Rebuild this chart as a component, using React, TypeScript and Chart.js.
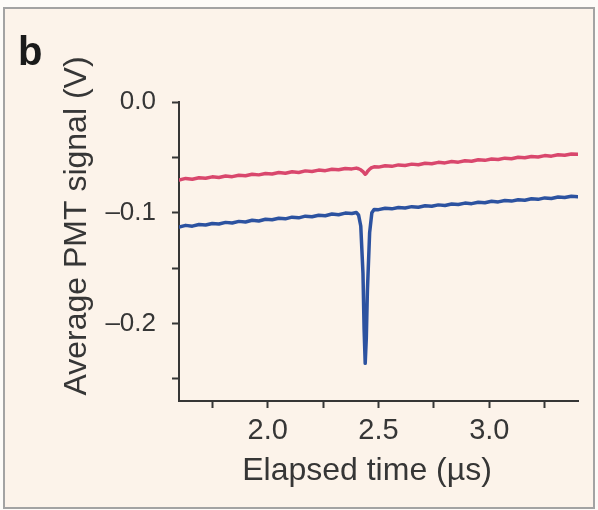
import React, { useEffect, useRef } from "react";
import { Chart, registerables } from "chart.js";

Chart.register(...registerables);

// Elapsed time (µs)
const time = [
  1.6, 1.63, 1.66, 1.69, 1.72, 1.75, 1.78, 1.81, 1.84, 1.87, 1.9, 1.93, 1.96, 1.99,
  2.02, 2.05, 2.08, 2.11, 2.14, 2.17, 2.2, 2.23, 2.26, 2.29, 2.32, 2.35, 2.38,
  2.4, 2.41, 2.42, 2.43, 2.435, 2.44, 2.445, 2.45, 2.46, 2.47, 2.48,
  2.5, 2.53, 2.56, 2.59, 2.62, 2.65, 2.68, 2.71, 2.74, 2.77, 2.8, 2.83, 2.86, 2.89,
  2.92, 2.95, 2.98, 3.01, 3.04, 3.07, 3.1, 3.13, 3.16, 3.19, 3.22, 3.25, 3.28, 3.31,
  3.34, 3.37, 3.4,
];

// Red trace (V)
const redSignal = [
  -0.0705, -0.069, -0.0697, -0.0684, -0.0689, -0.0676, -0.0681, -0.0669, -0.0674, -0.0661,
  -0.0666, -0.0652, -0.0658, -0.0646, -0.065, -0.0637, -0.0643, -0.063, -0.0636, -0.0622,
  -0.0627, -0.0615, -0.062, -0.0607, -0.0612, -0.06, -0.0604,
  -0.0597, -0.0603, -0.0612, -0.0628, -0.0642, -0.0652, -0.0645, -0.0628, -0.0606, -0.0592, -0.0585,
  -0.0588, -0.0575, -0.0581, -0.0568, -0.0573, -0.0561, -0.0566, -0.0553, -0.0558, -0.0545,
  -0.055, -0.0538, -0.0543, -0.053, -0.0535, -0.0522, -0.0527, -0.0515, -0.052, -0.0507,
  -0.0512, -0.0499, -0.0504, -0.0492, -0.0497, -0.0484, -0.0489, -0.0476, -0.0481, -0.0469,
  -0.0472,
];

// Blue trace (V)
const blueSignal = [
  -0.113, -0.1114, -0.1121, -0.1106, -0.1111, -0.1097, -0.1102, -0.1087, -0.1093, -0.1078,
  -0.1083, -0.1068, -0.1074, -0.1059, -0.1064, -0.105, -0.1055, -0.104, -0.1046, -0.1031,
  -0.1036, -0.1022, -0.1027, -0.1012, -0.1018, -0.1003, -0.1007,
  -0.0998, -0.102, -0.112, -0.155, -0.205, -0.236, -0.213, -0.17, -0.118, -0.1, -0.097,
  -0.0972, -0.096, -0.0965, -0.0952, -0.0957, -0.0945, -0.095, -0.0937, -0.0942, -0.0929,
  -0.0934, -0.0921, -0.0926, -0.0913, -0.0918, -0.0905, -0.091, -0.0897, -0.0902, -0.0889,
  -0.0895, -0.0882, -0.0887, -0.0874, -0.0879, -0.0866, -0.0871, -0.0858, -0.0863, -0.0851,
  -0.0856,
];

const xRange = [1.6, 3.4];
const yRange = [-0.27, 0];
// tick marks (labels only where listed below)
const xTickValues = [1.75, 2.0, 2.25, 2.5, 2.75, 3.0, 3.25];
const xTickLabels = ["", "2.0", "", "2.5", "", "3.0", ""];
const yTickValues = [0, -0.05, -0.1, -0.15, -0.2, -0.25];
const yTickLabels = ["0.0", "", "\u20130.1", "", "\u20130.2", ""];

const panelLabel = "b";
const xTitle = "Elapsed time (\u00b5s)";
const yTitle = "Average PMT signal (V)";

const INK = "#363636";
const FONT = "'Liberation Sans', Arial, sans-serif";

const textPlugin = {
  id: "panelText",
  afterDraw(chart: any) {
    const ctx = chart.ctx as CanvasRenderingContext2D;
    ctx.save();
    ctx.font = `bold 40px ${FONT}`;
    ctx.textAlign = "left";
    ctx.textBaseline = "alphabetic";
    ctx.fillStyle = "#1a1a1a";
    ctx.fillText(panelLabel, 18, 65);
    ctx.fillStyle = INK;
    ctx.font = `32px ${FONT}`;
    ctx.textAlign = "center";
    ctx.fillText(xTitle, 367, 480);
    ctx.translate(86, 226);
    ctx.rotate(-Math.PI / 2);
    ctx.fillText(yTitle, 0, 0);
    ctx.restore();
  },
};

function labelFor(values: number[], labels: string[], v: number) {
  for (let i = 0; i < values.length; i++) {
    if (Math.abs(values[i] - v) < 1e-9) return labels[i];
  }
  return "";
}

export default function App() {
  const ref = useRef<HTMLCanvasElement | null>(null);

  useEffect(() => {
    if (!ref.current) return;
    const chart = new Chart(ref.current, {
      type: "line",
      data: {
        datasets: [
          {
            label: "red",
            data: time.map((t, i) => ({ x: t, y: redSignal[i] })),
            borderColor: "#d9476d",
            borderWidth: 3.5,
            pointRadius: 0,
            tension: 0,
            borderJoinStyle: "round",
            borderCapStyle: "round",
          },
          {
            label: "blue",
            data: time.map((t, i) => ({ x: t, y: blueSignal[i] })),
            borderColor: "#2c52a0",
            borderWidth: 3.5,
            pointRadius: 0,
            tension: 0,
            borderJoinStyle: "round",
            borderCapStyle: "round",
          },
        ],
      },
      options: {
        responsive: false,
        animation: false,
        devicePixelRatio: 1,
        layout: { padding: { left: 0, top: 102, right: 20, bottom: 0 } },
        plugins: {
          legend: { display: false },
          tooltip: { enabled: false },
        },
        scales: {
          x: {
            type: "linear",
            min: xRange[0],
            max: xRange[1],
            bounds: "data",
            border: { display: true, color: INK, width: 2 },
            grid: {
              drawOnChartArea: false,
              drawTicks: true,
              tickLength: 7,
              tickWidth: 2,
              tickColor: INK,
            },
            afterBuildTicks: (s: any) => {
              s.ticks = xTickValues.map((v) => ({ value: v }));
            },
            ticks: {
              autoSkip: false,
              maxRotation: 0,
              padding: 6,
              color: INK,
              font: { family: FONT, size: 29 },
              callback: (v: any) => labelFor(xTickValues, xTickLabels, Number(v)),
            },
            afterFit: (s: any) => {
              s.height = 109;
            },
          },
          y: {
            type: "linear",
            min: yRange[0],
            max: yRange[1],
            bounds: "data",
            border: { display: true, color: INK, width: 2 },
            grid: {
              drawOnChartArea: false,
              drawTicks: true,
              tickLength: 7,
              tickWidth: 2,
              tickColor: INK,
            },
            afterBuildTicks: (s: any) => {
              s.ticks = yTickValues.map((v) => ({ value: v }));
            },
            ticks: {
              autoSkip: false,
              padding: 16,
              color: INK,
              font: { family: FONT, size: 26 },
              callback: (v: any) => labelFor(yTickValues, yTickLabels, Number(v)),
            },
            afterFit: (s: any) => {
              s.width = 179;
            },
          },
        },
      },
      plugins: [textPlugin],
    });
    return () => chart.destroy();
  }, []);

  return (
    <div
      style={{
        position: "fixed",
        left: 0,
        top: 0,
        width: 598,
        height: 510,
        background: "#fdfbf8",
        overflow: "hidden",
      }}
    >
      <div
        style={{
          position: "absolute",
          left: 3,
          top: 7,
          width: 592,
          height: 502,
          boxSizing: "border-box",
          border: "2px solid #a3a3a3",
          background: "#fcf3ea",
        }}
      />
      <canvas
        ref={ref}
        width={598}
        height={510}
        style={{ position: "absolute", left: 0, top: 0, width: 598, height: 510 }}
      />
    </div>
  );
}
